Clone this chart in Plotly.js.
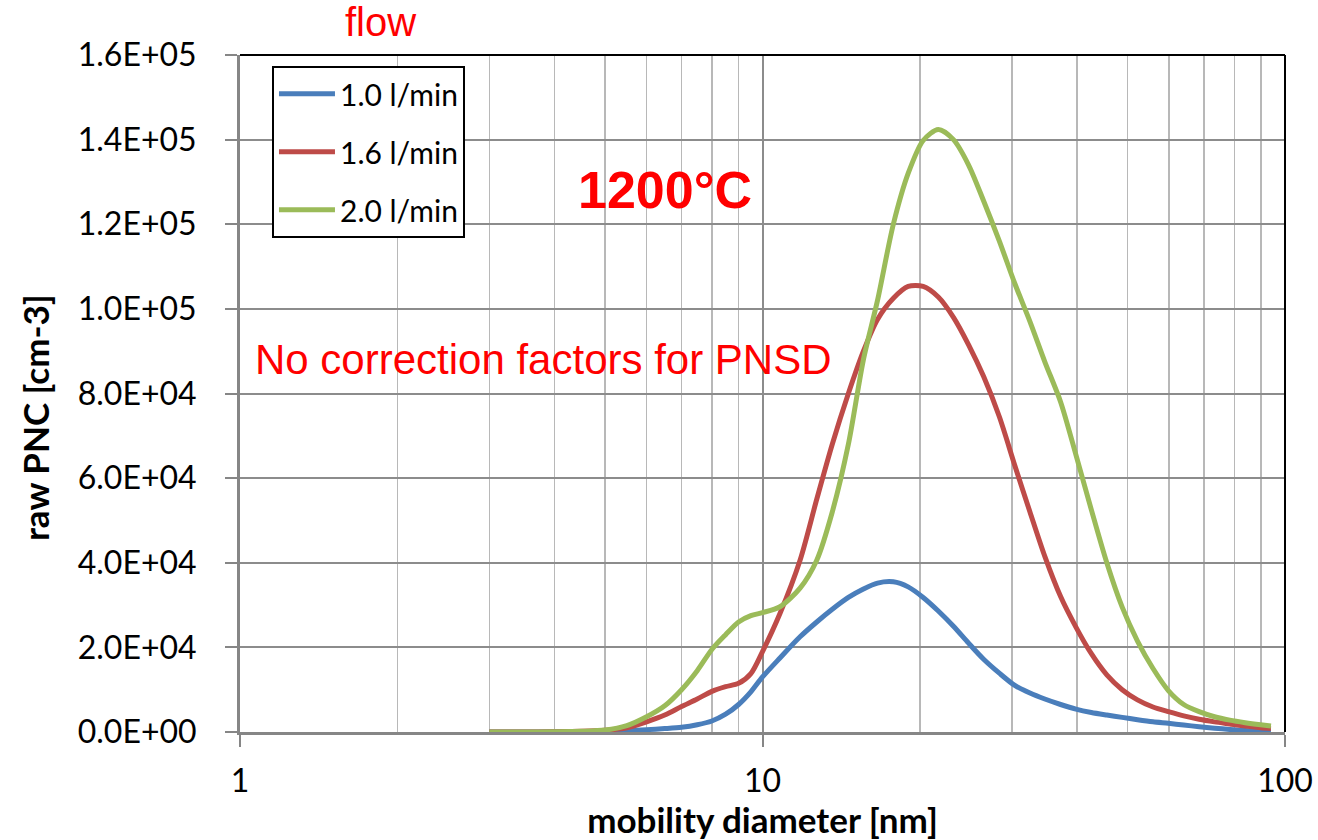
<!DOCTYPE html>
<html>
<head>
<meta charset="utf-8">
<script src="https://cdn.plot.ly/plotly-3.0.1.min.js"></script>
<style>
html,body{margin:0;padding:0;background:#fff;}
#chart{width:1318px;height:840px;}
</style>
</head>
<body>
<div id="chart"></div>
<script>
// mobility diameter [nm]
const diameter = [3.0, 3.5, 4.0, 4.5, 5.0, 5.5, 6.0, 6.5, 7.0, 7.5, 8.0, 8.5, 9.0, 9.5, 10.0, 10.8, 11.8, 12.7, 13.6, 14.6, 15.6, 16.6, 17.8, 19.0, 20.3, 21.7, 23.2, 24.8, 26.5, 28.4, 30.4, 32.5, 34.7, 37.2, 39.8, 42.6, 45.6, 48.8, 52.2, 55.9, 59.8, 64.0, 68.5, 73.3, 78.4, 83.9, 89.8, 94.0];

// raw PNC [cm-3]
const flow10 = [0, 0, 50, 100, 200, 350, 550, 800, 1100, 1700, 2600, 4200, 6500, 9500, 13000, 17500, 22500, 26000, 29000, 31800, 33800, 35200, 35500, 34300, 31800, 28600, 25000, 21000, 17200, 13900, 11000, 9200, 7800, 6500, 5400, 4600, 4000, 3450, 2900, 2400, 2050, 1650, 1250, 900, 600, 350, 150, 50];
const flow16 = [0, 0, 50, 150, 400, 1000, 2400, 4000, 6000, 7800, 9600, 10700, 11500, 13800, 19000, 28000, 40600, 55000, 68000, 80000, 90000, 97500, 102500, 105300, 105300, 102800, 98000, 91500, 84000, 74500, 63000, 52000, 41500, 32000, 24800, 18500, 13500, 10000, 7600, 5900, 4800, 3800, 3000, 2400, 1900, 1400, 1000, 800];
const flow20 = [0, 0, 50, 150, 450, 1500, 3600, 6200, 10000, 14500, 19500, 23000, 26000, 27500, 28200, 29600, 34000, 40600, 52000, 68000, 88000, 102000, 120000, 132000, 139800, 142400, 140000, 134000, 125500, 116000, 106000, 97000, 87500, 78000, 65500, 52500, 40000, 29500, 21500, 15000, 9800, 6500, 4800, 3600, 2800, 2200, 1700, 1400];

const seriesNames = ['1.0 l/min', '1.6 l/min', '2.0 l/min'];
const seriesColors = ['#4A7EBB', '#BE4B48', '#9BBB59'];

const yTickVals = [0, 20000, 40000, 60000, 80000, 100000, 120000, 140000, 160000];
const yTickText = ['0.0E+00', '2.0E+04', '4.0E+04', '6.0E+04', '8.0E+04', '1.0E+05', '1.2E+05', '1.4E+05', '1.6E+05'];
const xTickVals = [1, 10, 100];
const xTickText = ['1', '10', '100'];
const xMinorVals = [2, 3, 4, 5, 6, 7, 8, 9, 20, 30, 40, 50, 60, 70, 80, 90];

const ys = [flow10, flow16, flow20];
const traces = ys.map((y, i) => ({
  x: diameter,
  y: y,
  type: 'scatter',
  mode: 'lines',
  name: seriesNames[i],
  legendgroup: 'g' + i,
  line: {color: seriesColors[i], width: 5, shape: 'spline', smoothing: 0.8}
}));

const tickFont = {family: 'Lato, "Open Sans", sans-serif', size: 32, color: '#000'};
const titleFont = {family: 'Lato, "Open Sans", sans-serif', size: 35, color: '#000', weight: 'bold'};
const annFont = {family: '"Liberation Sans", Arial, sans-serif', color: '#FF0000'};

const layout = {
  width: 1318, height: 840,
  margin: {l: 240, r: 33, t: 55, b: 108},
  paper_bgcolor: '#fff', plot_bgcolor: '#fff',
  showlegend: true,
  legend: {
    x: 0.0306, y: 0.984, xanchor: 'left', yanchor: 'top',
    bgcolor: '#fff', bordercolor: '#000', borderwidth: 2,
    font: {family: 'Lato, "Open Sans", sans-serif', size: 30, color: '#000'},
    traceorder: 'grouped', tracegroupgap: 16, itemwidth: 56
  },
  xaxis: {
    type: 'log', range: [0, 2],
    tickvals: xTickVals, ticktext: xTickText,
    ticks: 'outside', ticklen: 12, tickwidth: 2, tickcolor: '#868686',
    showline: true, linecolor: '#868686', linewidth: 3,
    showgrid: true, gridcolor: '#8C8C8C', gridwidth: 2,
    minor: {tickvals: xMinorVals, showgrid: true, gridcolor: '#B8B8B8', gridwidth: 1.5, ticks: ''},
    tickfont: tickFont, ticklabelstandoff: 7,
    zeroline: false,
    title: {text: 'mobility diameter [nm]', font: titleFont, standoff: 6}
  },
  yaxis: {
    range: [0, 160000],
    tickvals: yTickVals, ticktext: yTickText,
    ticks: 'outside', ticklen: 12, tickwidth: 2, tickcolor: '#868686',
    showline: true, linecolor: '#868686', linewidth: 3,
    showgrid: true, gridcolor: '#8C8C8C', gridwidth: 2,
    tickfont: tickFont, ticklabelstandoff: 22,
    zeroline: false
  },
  shapes: [
    {type: 'line', xref: 'paper', yref: 'paper', x0: 0, x1: 1, y0: 1, y1: 1, line: {color: '#000', width: 2}, layer: 'above'},
    {type: 'line', xref: 'paper', yref: 'paper', x0: 1, x1: 1, y0: 0, y1: 1, line: {color: '#000', width: 2}, layer: 'above'}
  ],
  annotations: [
    {text: '<b>raw PNC [cm-3]</b>', xref: 'paper', yref: 'paper', x: -0.196, y: 0.464, xanchor: 'center', yanchor: 'middle', textangle: -90, showarrow: false, font: titleFont},
    {text: 'flow', xref: 'paper', yref: 'paper', x: 0.134, y: 1.049, xanchor: 'center', yanchor: 'middle', showarrow: false, font: Object.assign({size: 40}, annFont)},
    {text: '<b>1200°C</b>', xref: 'paper', yref: 'paper', x: 0.4067, y: 0.8006, xanchor: 'center', yanchor: 'middle', showarrow: false, font: Object.assign({size: 52}, annFont)},
    {text: 'No correction factors for PNSD', xref: 'paper', yref: 'paper', x: 0.0125, y: 0.5495, xanchor: 'left', yanchor: 'middle', showarrow: false, font: Object.assign({size: 42}, annFont)}
  ]
};

Plotly.newPlot('chart', traces, layout, {displayModeBar: false, staticPlot: true});
</script>
</body>
</html>
